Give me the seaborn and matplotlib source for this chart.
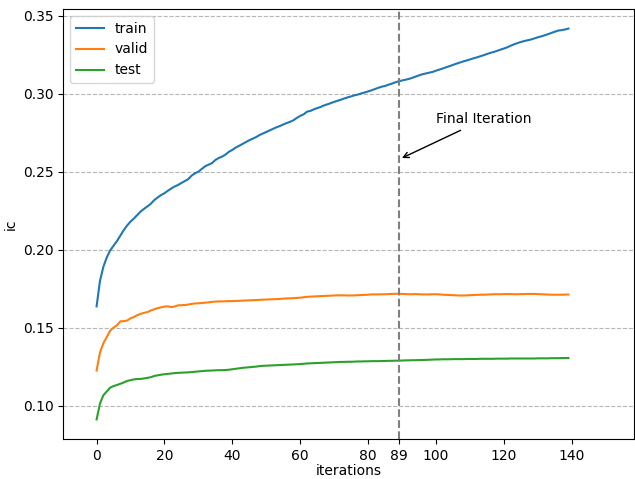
import matplotlib
matplotlib.use("Agg")
import matplotlib.pyplot as plt
import numpy as np
import pandas as pd
import seaborn as sns

# ic per iteration
train_ic = [
    0.1636, 0.1800, 0.1890, 0.1950, 0.1995, 0.2025, 0.2055, 0.2090, 0.2125, 0.2155,
    0.2180, 0.2200, 0.2222, 0.2245, 0.2262, 0.2278, 0.2295, 0.2318, 0.2335, 0.2350,
    0.2362, 0.2378, 0.2392, 0.2405, 0.2415, 0.2428, 0.2440, 0.2452, 0.2475, 0.2490,
    0.2500, 0.2518, 0.2535, 0.2545, 0.2555, 0.2575, 0.2588, 0.2597, 0.2610, 0.2628,
    0.2640, 0.2655, 0.2666, 0.2678, 0.2690, 0.2702, 0.2712, 0.2722, 0.2735, 0.2745,
    0.2755, 0.2765, 0.2775, 0.2785, 0.2793, 0.2803, 0.2812, 0.2820, 0.2830, 0.2845,
    0.2858, 0.2868, 0.2885, 0.2890, 0.2900, 0.2908, 0.2915, 0.2925, 0.2932, 0.2940,
    0.2948, 0.2955, 0.2962, 0.2970, 0.2977, 0.2983, 0.2990, 0.2995, 0.3002, 0.3008,
    0.3015, 0.3022, 0.3030, 0.3038, 0.3045, 0.3050, 0.3058, 0.3065, 0.3073, 0.3080,
    0.3085, 0.3090, 0.3095, 0.3102, 0.3110, 0.3118, 0.3125, 0.3130, 0.3135, 0.3140,
    0.3148, 0.3155, 0.3162, 0.3170, 0.3177, 0.3185, 0.3193, 0.3200, 0.3207, 0.3213,
    0.3220, 0.3227, 0.3233, 0.3240, 0.3247, 0.3255, 0.3262, 0.3268, 0.3275, 0.3283,
    0.3290, 0.3298, 0.3308, 0.3317, 0.3325, 0.3332, 0.3338, 0.3343, 0.3348, 0.3355,
    0.3362, 0.3368, 0.3375, 0.3382, 0.3390, 0.3398, 0.3405, 0.3408, 0.3412, 0.3418,
]
valid_ic = [
    0.1225, 0.1340, 0.1400, 0.1440, 0.1480, 0.1500, 0.1515, 0.1540, 0.1542, 0.1545,
    0.1560, 0.1568, 0.1580, 0.1588, 0.1595, 0.1600, 0.1610, 0.1618, 0.1625, 0.1630,
    0.1635, 0.1636, 0.1632, 0.1635, 0.1643, 0.1644, 0.1645, 0.1648, 0.1652, 0.1655,
    0.1656, 0.1658, 0.1660, 0.1662, 0.1665, 0.1667, 0.1668, 0.1668, 0.1669, 0.1670,
    0.1670, 0.1671, 0.1672, 0.1673, 0.1674, 0.1675, 0.1676, 0.1677, 0.1678, 0.1679,
    0.1680, 0.1681, 0.1682, 0.1683, 0.1684, 0.1686, 0.1687, 0.1688, 0.1689, 0.1690,
    0.1692, 0.1695, 0.1697, 0.1699, 0.1700, 0.1701, 0.1702, 0.1703, 0.1704, 0.1705,
    0.1706, 0.1707, 0.1707, 0.1707, 0.1706, 0.1706, 0.1707, 0.1708, 0.1709, 0.1710,
    0.1711, 0.1713, 0.1713, 0.1713, 0.1714, 0.1714, 0.1715, 0.1716, 0.1717, 0.1717,
    0.1716, 0.1715, 0.1714, 0.1714, 0.1715, 0.1714, 0.1713, 0.1713, 0.1713, 0.1714,
    0.1714, 0.1713, 0.1711, 0.1710, 0.1709, 0.1708, 0.1707, 0.1706, 0.1706, 0.1707,
    0.1708, 0.1709, 0.1710, 0.1711, 0.1711, 0.1712, 0.1713, 0.1714, 0.1714, 0.1714,
    0.1715, 0.1715, 0.1715, 0.1714, 0.1714, 0.1715, 0.1715, 0.1716, 0.1716, 0.1716,
    0.1715, 0.1714, 0.1713, 0.1712, 0.1711, 0.1711, 0.1711, 0.1711, 0.1712, 0.1712,
]
test_ic = [
    0.0911, 0.1013, 0.1066, 0.1090, 0.1115, 0.1125, 0.1132, 0.1140, 0.1148, 0.1158,
    0.1163, 0.1168, 0.1170, 0.1171, 0.1174, 0.1178, 0.1182, 0.1190, 0.1194, 0.1198,
    0.1201, 0.1203, 0.1206, 0.1208, 0.1210, 0.1211, 0.1212, 0.1213, 0.1215, 0.1217,
    0.1219, 0.1221, 0.1223, 0.1224, 0.1225, 0.1226, 0.1227, 0.1227, 0.1228, 0.1230,
    0.1233, 0.1236, 0.1239, 0.1242, 0.1244, 0.1246, 0.1248, 0.1250, 0.1253, 0.1255,
    0.1256, 0.1257, 0.1258, 0.1259, 0.1260, 0.1261, 0.1262, 0.1263, 0.1264, 0.1265,
    0.1266, 0.1268, 0.1270, 0.1271, 0.1272, 0.1273, 0.1274, 0.1275, 0.1276, 0.1277,
    0.1278, 0.1279, 0.1280, 0.1280, 0.1281, 0.1281, 0.1282, 0.1283, 0.1283, 0.1284,
    0.1284, 0.1285, 0.1285, 0.1285, 0.1286, 0.1286, 0.1287, 0.1287, 0.1288, 0.1288,
    0.1289, 0.1290, 0.1290, 0.1291, 0.1291, 0.1292, 0.1292, 0.1293, 0.1294, 0.1295,
    0.1296, 0.1296, 0.1297, 0.1297, 0.1297, 0.1298, 0.1298, 0.1298, 0.1298, 0.1299,
    0.1299, 0.1299, 0.1299, 0.1300, 0.1300, 0.1300, 0.1300, 0.1300, 0.1301, 0.1301,
    0.1301, 0.1301, 0.1302, 0.1302, 0.1302, 0.1302, 0.1302, 0.1302, 0.1302, 0.1302,
    0.1303, 0.1303, 0.1303, 0.1303, 0.1304, 0.1304, 0.1304, 0.1305, 0.1305, 0.1305,
]
series_names = ["train", "valid", "test"]
final_iteration = 89
x_ticks = [0, 20, 40, 60, 80, 89, 100, 120, 140]


def main():
    frames = []
    for name, values in zip(series_names, [train_ic, valid_ic, test_ic]):
        frames.append(pd.DataFrame({
            "iterations": np.arange(len(values)),
            "ic": values,
            "split": name,
        }))
    df = pd.concat(frames, ignore_index=True)

    fig, ax = plt.subplots(figsize=(6.35, 4.79), dpi=100)
    sns.lineplot(
        data=df,
        x="iterations",
        y="ic",
        hue="split",
        hue_order=series_names,
        palette=["#1f77b4", "#ff7f0e", "#2ca02c"],
        linewidth=1.5,
        ax=ax,
    )

    ax.axvline(final_iteration, color="gray", linestyle="--", linewidth=1.5)
    ax.annotate(
        "Final Iteration",
        xy=(final_iteration + 0.2, 0.258),
        xytext=(final_iteration + 11, 0.281),
        arrowprops=dict(arrowstyle="->", color="black"),
    )

    ax.set_xticks(x_ticks)
    ax.set_xlim(-9.8, 158.3)
    ax.grid(axis="y", linestyle="--", color="#b0b0b0", alpha=0.9)
    ax.set_xlabel("iterations", labelpad=1)
    ax.set_ylabel("ic")

    handles, labels = ax.get_legend_handles_labels()
    ax.legend(handles, labels, loc="upper left")

    # the reference axes run almost to the right edge of the image
    fig.subplots_adjust(left=0.0997, right=0.9984, top=0.9812, bottom=0.0835)
    fig.savefig("out.png", dpi=100)
    plt.close(fig)


if __name__ == "__main__":
    main()
